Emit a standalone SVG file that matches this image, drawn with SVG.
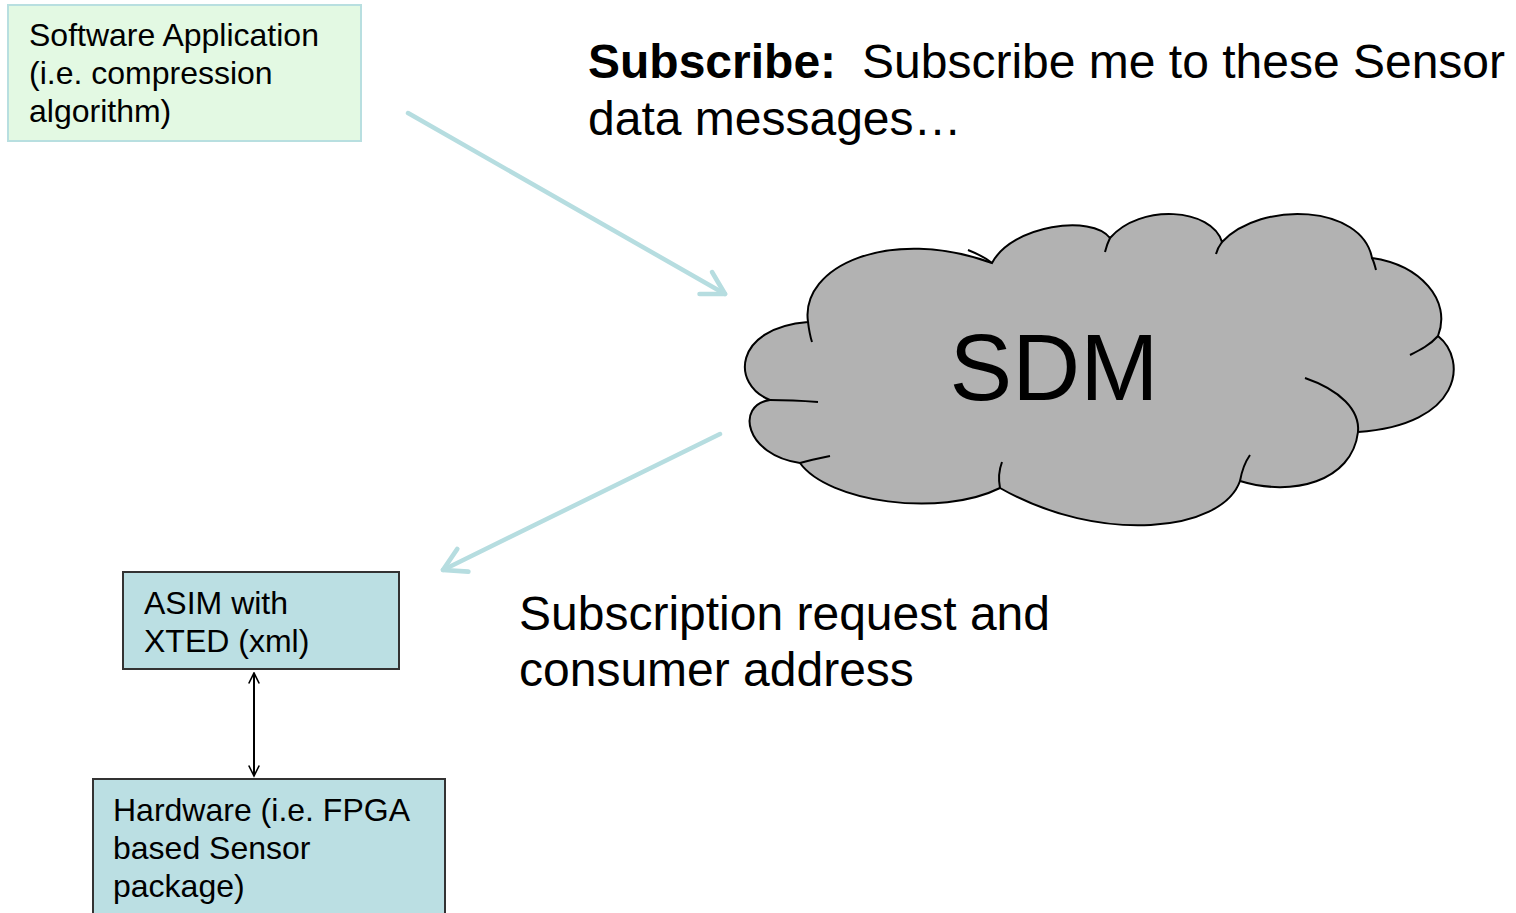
<svg xmlns="http://www.w3.org/2000/svg" width="1516" height="913" viewBox="0 0 1516 913">
<style>
  text { font-family: "Liberation Sans", Arial, sans-serif; fill: #000; }
  .box { font-size: 32px; }
  .big { font-size: 48px; }
  .flow { stroke: #b6dde0; stroke-width: 4.5; fill: none; stroke-linecap: round; }
  .cloudline { fill: none; stroke: #000; stroke-width: 2; }
</style>
<defs>
  <marker id="openTeal" viewBox="0 0 20 20" refX="17" refY="10" markerWidth="7" markerHeight="7" markerUnits="strokeWidth" orient="auto">
    <path d="M3,2 L17,10 L3,18" fill="none" stroke="#b6dde0" stroke-width="3" stroke-linecap="round" stroke-linejoin="round"/>
  </marker>
  <marker id="openBlack" viewBox="0 0 20 20" refX="18" refY="10" markerWidth="15" markerHeight="15" markerUnits="userSpaceOnUse" orient="auto-start-reverse">
    <path d="M4,3 L18,10 L4,17" fill="none" stroke="#000" stroke-width="2.2"/>
  </marker>
</defs>
<rect width="1516" height="913" fill="#fff"/>

<g id="software-app">
  <rect x="8" y="5" width="353" height="136" fill="#e3f9e3" stroke="#b8dfe0" stroke-width="2"/>
  <text class="box" x="29" y="46">Software Application</text>
  <text class="box" x="29" y="84">(i.e. compression</text>
  <text class="box" x="29" y="122">algorithm)</text>
</g>

<g id="sdm">
  <path d="M770,400 C731,385 733,328 808,322 C800,266 890,226 992,263 C1012,225 1092,214 1110,238 C1140,203 1212,208 1222,242 C1262,200 1362,205 1372,258 C1420,265 1452,300 1438,336 C1468,360 1462,425 1358,432 C1352,482 1292,497 1240,481 C1222,532 1100,545 1000,488 C940,518 828,502 800,463 C745,455 735,405 770,400 Z" fill="#b2b2b2" stroke="#000" stroke-width="2"/>
  <path class="cloudline" d="M770,400 C790,400 805,401 818,402"/>
  <path class="cloudline" d="M808,322 C809,330 810,336 812,342"/>
  <path class="cloudline" d="M992,263 C986,258 978,254 968,250"/>
  <path class="cloudline" d="M1110,238 C1107,244 1106,248 1105,252"/>
  <path class="cloudline" d="M1222,242 C1219,246 1217,250 1216,254"/>
  <path class="cloudline" d="M1372,258 C1374,262 1375,266 1376,270"/>
  <path class="cloudline" d="M1438,336 C1430,345 1420,350 1410,355"/>
  <path class="cloudline" d="M1305,378 C1340,390 1360,410 1358,432"/>
  <path class="cloudline" d="M1240,481 C1242,470 1245,462 1250,455"/>
  <path class="cloudline" d="M1000,488 C998,478 999,470 1002,462"/>
  <path class="cloudline" d="M800,463 C810,460 820,458 830,456"/>
  <text x="1054" y="400" font-size="94" text-anchor="middle">SDM</text>
</g>

<g id="asim">
  <rect x="123" y="572" width="276" height="97" fill="#bbdfe3" stroke="#333" stroke-width="2"/>
  <text class="box" x="144" y="614">ASIM with</text>
  <text class="box" x="144" y="652">XTED (xml)</text>
</g>

<g id="hardware">
  <rect x="93" y="779" width="352" height="150" fill="#bbdfe3" stroke="#333" stroke-width="2"/>
  <text class="box" x="113" y="821">Hardware (i.e. FPGA</text>
  <text class="box" x="113" y="859">based Sensor</text>
  <text class="box" x="113" y="897">package)</text>
</g>

<g id="labels">
  <text class="big" x="588" y="78"><tspan font-weight="bold">Subscribe:</tspan><tspan x="862">Subscribe me to these Sensor</tspan></text>
  <text class="big" x="588" y="135">data messages…</text>
  <text class="big" x="519" y="630">Subscription request and</text>
  <text class="big" x="519" y="686">consumer address</text>
</g>

<g id="connectors">
  <line class="flow" x1="408" y1="113" x2="725" y2="294" marker-end="url(#openTeal)"/>
  <line class="flow" x1="720" y1="434" x2="443" y2="570" marker-end="url(#openTeal)"/>
  <line x1="254" y1="673" x2="254" y2="776" stroke="#000" stroke-width="2" marker-start="url(#openBlack)" marker-end="url(#openBlack)"/>
</g>
</svg>
